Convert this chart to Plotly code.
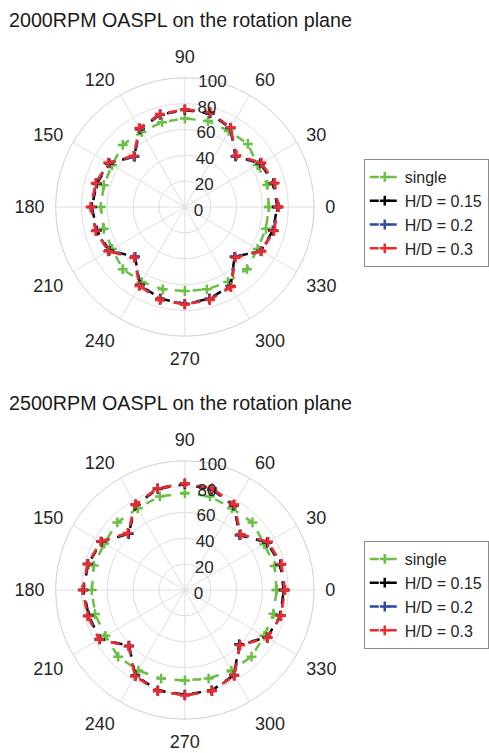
import plotly.graph_objects as go

angles = [0, 15, 30, 45, 60, 75, 90, 105, 120, 135, 150, 165,
          180, 195, 210, 225, 240, 255, 270, 285, 300, 315, 330, 345]

# 2000 RPM
single_2000 = [65, 66, 65, 69, 68, 69, 68.5, 68, 67, 68, 65, 65,
               65, 65, 65, 68, 67, 66, 65, 66, 67, 68, 65, 65]
hd015_2000 = [71.5, 71, 67.5, 55.5, 70.5, 75, 75, 74, 69.5, 55.5, 67.5, 70.5,
              72, 70.5, 67.5, 54.5, 69.5, 73.5, 75, 73.5, 70.5, 54.5, 68, 70.5]
hd02_2000 = [72, 71.5, 68, 55.5, 70.5, 75.5, 75.5, 74, 70, 55, 68, 71,
             72.5, 71, 68, 54.5, 70, 74, 75, 74, 71, 54.5, 68, 71]
hd03_2000 = [72.5, 72, 68.5, 56.5, 71, 76, 75.5, 74.5, 70.5, 56, 68.5, 71.5,
             73, 71.5, 68.5, 55.5, 70.5, 74.5, 75.5, 74.5, 71.5, 55.5, 68.5, 71.5]

# 2500 RPM
single_2500 = [71, 72, 71, 74, 73, 75, 75, 75, 73, 74, 72, 73,
               72, 72, 71, 73, 72, 71, 70, 71, 72, 73, 71, 71]
hd015_2500 = [76.5, 76.5, 73.5, 60, 75.5, 80.5, 82, 81, 76, 61.5, 74.5, 77.5,
              78.5, 77, 76, 61, 76.5, 80.5, 81, 80.5, 76, 59.5, 73.5, 76.5]
hd02_2500 = [77, 77, 74, 60.5, 76, 81, 82.5, 81.5, 76.5, 62, 75, 78,
             79, 77.5, 76.5, 61.5, 77, 81, 81.5, 81, 76.5, 60, 74, 77]
hd03_2500 = [77.5, 77.5, 74.5, 61, 76.5, 81.5, 82.5, 81.5, 76.5, 62.5, 75, 78,
             79, 78, 76.5, 61.5, 77, 81, 81.5, 81, 76.5, 60.5, 74, 77]

angle_ticks = [0, 30, 60, 90, 120, 150, 180, 210, 240, 270, 300, 330]
angle_labels = [str(a) for a in angle_ticks]
radial_ticks = [0, 20, 40, 60, 80, 100]

series_names = ["single", "H/D = 0.15", "H/D = 0.2", "H/D = 0.3"]
series_colors = ["#6abf45", "#000000", "#2f4a9e", "#ee2a2a"]
titles = ["2000RPM OASPL on the rotation plane", "2500RPM OASPL on the rotation plane"]

def closed(v):
    return list(v) + [v[0]]

theta = closed(angles)

fig = go.Figure()
groups = [
    ([single_2000, hd015_2000, hd02_2000, hd03_2000], "polar", "legend"),
    ([single_2500, hd015_2500, hd02_2500, hd03_2500], "polar2", "legend2"),
]
for data, sub, leg in groups:
    for vals, name, col in zip(data, series_names, series_colors):
        fig.add_trace(go.Scatterpolar(
            r=closed(vals), theta=theta, mode="lines+markers", name=name,
            line=dict(color=col, width=2.5, dash="dash"),
            marker=dict(symbol="cross-thin", size=7, color=col,
                        line=dict(color=col, width=2.5)),
            subplot=sub, legend=leg,
        ))

txt = "#262626"
grid = "#dedede"
font_family = "Liberation Sans, Arial, sans-serif"

def polar_cfg(ydom):
    return dict(
        domain=dict(x=[56 / 489, 316 / 489], y=ydom),
        bgcolor="white",
        angularaxis=dict(
            rotation=0, direction="counterclockwise",
            tickmode="array", tickvals=angle_ticks, ticktext=angle_labels,
            tickfont=dict(size=18, color=txt, family=font_family),
            showline=True, linecolor="#cfcfcf", linewidth=1,
            gridcolor=grid, gridwidth=1,
            ticks="outside", ticklen=7, tickcolor="rgba(0,0,0,0)",
        ),
        radialaxis=dict(
            range=[0, 100], tickmode="array", tickvals=radial_ticks,
            angle=88, tickangle=88,
            tickfont=dict(size=17, color=txt, family=font_family),
            showline=False, ticks="", gridcolor=grid, gridwidth=1,
        ),
    )

legend_cfg = dict(
    xanchor="left", yanchor="top",
    bgcolor="white", bordercolor="#8c8c8c", borderwidth=1,
    font=dict(size=16, color=txt, family=font_family),
    itemwidth=30, tracegroupgap=0,
)

fig.update_layout(
    width=489, height=753,
    margin=dict(l=0, r=0, t=0, b=0),
    paper_bgcolor="white", plot_bgcolor="white",
    font=dict(family=font_family, color=txt),
    polar=polar_cfg([1 - 337 / 753, 1 - 77 / 753]),
    polar2=polar_cfg([1 - 720 / 753, 1 - 460 / 753]),
    legend=dict(x=366 / 489, y=1 - 159 / 753, **legend_cfg),
    legend2=dict(x=366 / 489, y=1 - 541 / 753, **legend_cfg),
    annotations=[
        dict(text=titles[0], x=7 / 489, y=1 - 20 / 753, xref="paper", yref="paper",
             xanchor="left", yanchor="middle", showarrow=False,
             font=dict(size=19.7, color="#1a1a1a", family=font_family)),
        dict(text=titles[1], x=7 / 489, y=1 - 403 / 753, xref="paper", yref="paper",
             xanchor="left", yanchor="middle", showarrow=False,
             font=dict(size=19.7, color="#1a1a1a", family=font_family)),
    ],
)

fig.write_html("out.html")
